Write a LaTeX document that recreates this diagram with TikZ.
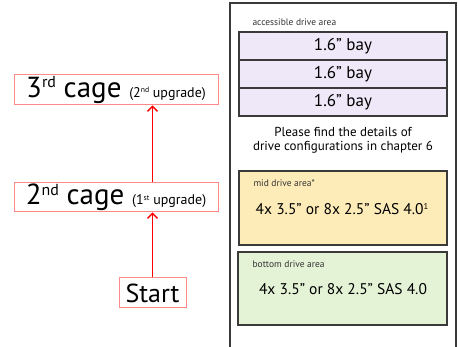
\documentclass[tikz,border=0pt]{standalone}
\usepackage{fontspec}
\setmainfont{PT Sans}
\usetikzlibrary{positioning,arrows.meta}
\definecolor{cageline}{HTML}{FF8A8A}
\definecolor{bayfill}{HTML}{EEE8F8}
\definecolor{midfill}{HTML}{FDEBB8}
\definecolor{botfill}{HTML}{E4F3D6}
\definecolor{frameline}{HTML}{3A3A3A}
\newcommand{\hisup}[1]{\raisebox{0.33em}{\scalebox{0.55}{#1}}}

\begin{document}
\begin{tikzpicture}[x=1pt,y=-1pt,
   cage/.style={draw=cageline,line width=1pt,inner sep=0pt,minimum height=30pt},
   upgrade/.style={-{Straight Barb[length=5pt,width=10pt]},red,line width=1.3pt},
   area/.style={draw=frameline,line width=1.2pt,inner sep=0pt,minimum width=208pt},
   tag/.style={anchor=west,font=\fontsize{9.5}{10}\selectfont,text=black!80}]
   \useasboundingbox (0,0) rectangle (458,347);
   \clip (0,0) rectangle (458,347);
   % chassis frame
   \draw[frameline,line width=1.5pt] (230,3) rectangle (456,360);
   % upgrade path
   \node[cage,minimum width=204pt] (c3) at (116,90)
      {\fontsize{29}{30}\selectfont 3\hisup{rd} cage \fontsize{14}{15}\selectfont(2\hisup{nd} upgrade)\hspace{6pt}};
   \node[cage,minimum width=204pt,minimum height=29pt] (c2) at (116,197.5)
      {\fontsize{29}{30}\selectfont 2\hisup{nd} cage \fontsize{14}{15}\selectfont(1\hisup{st} upgrade)\hspace{6pt}};
   \node[cage,minimum width=67pt] (start) at (152.5,293)
      {\fontsize{26}{28}\selectfont Start};
   \draw[upgrade] (start.north) -- (start.north |- c2.south);
   \draw[upgrade] (start.north |- c2.north) -- (start.north |- c3.south);
   % accessible drive area
   \node[tag] (acc) at (249,22) {accessible drive area};
   \node[area,fill=bayfill,minimum height=28pt] (bay1) at (343,46) {\fontsize{17}{19}\selectfont 1.6” bay};
   \node[area,fill=bayfill,minimum height=28pt] (bay2) at (343,74) {\fontsize{17}{19}\selectfont 1.6” bay};
   \node[area,fill=bayfill,minimum height=28pt] (bay3) at (343,102) {\fontsize{17}{19}\selectfont 1.6” bay};
   \node[align=center,font=\fontsize{13}{14}\selectfont] (note) at (343,140)
      {Please find the details of\\drive configurations in chapter 6};
   % mid and bottom drive areas
   \node[area,fill=midfill,minimum height=74pt] (mid) at (343,208) {};
   \node[tag] (midtag) at (250,183) {mid drive area*};
   \node[font=\fontsize{15.5}{17}\selectfont] (midtxt) at (342,209) {4x 3.5” or 8x 2.5” SAS 4.0\hisup{1}};
   \node[area,fill=botfill,minimum height=73pt,minimum width=209pt] (bot) at (342.5,288.5) {};
   \node[tag] (bottag) at (249,264) {bottom drive area};
   \node[font=\fontsize{15.5}{17}\selectfont] (bottxt) at (343,289) {4x 3.5” or 8x 2.5” SAS 4.0};
\end{tikzpicture}
\end{document}
